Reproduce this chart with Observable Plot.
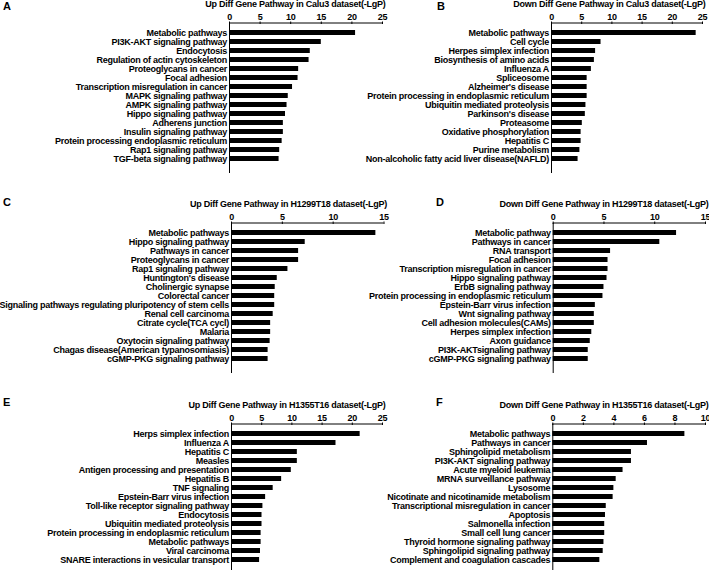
<!DOCTYPE html>
<html><head><meta charset="utf-8">
<script src="https://cdn.jsdelivr.net/npm/d3@7"></script>
<script src="https://cdn.jsdelivr.net/npm/@observablehq/plot@0.6"></script>
<style>
body{margin:0;background:#fff;}
#root{position:relative;width:709px;height:570px;overflow:hidden;font-family:"Liberation Sans",Arial,sans-serif;}
.panel{position:absolute;}
.letter{position:absolute;font-weight:bold;font-size:11px;line-height:1;color:#000;}
</style></head><body><div id="root"></div>
<script>
// ---- Data ----
const titleA = "Up Diff Gene Pathway in Calu3 dataset(-LgP)";
const labelsA = ["Metabolic pathways","PI3K-AKT signaling pathway","Endocytosis","Regulation of actin cytoskeleton","Proteoglycans in cancer","Focal adhesion","Transcription misregulation in cancer","MAPK signaling pathway","AMPK signaling pathway","Hippo signaling pathway","Adherens junction","Insulin signaling pathway","Protein processing endoplasmic reticulum","Rap1 signaling pathway","TGF-beta signaling pathway"];
const valuesA = [20.6,15.0,13.2,13.0,11.3,11.2,10.3,9.6,9.4,9.15,8.8,8.8,8.6,8.2,8.1];
const ticksA = [0,5,10,15,20,25];

const titleB = "Down Diff Gene Pathway in Calu3 dataset(-LgP)";
const labelsB = ["Metabolic pathways","Cell cycle","Herpes simplex infection","Biosynthesis of amino acids","Influenza A","Spliceosome","Alzheimer's disease","Protein processing in endoplasmic reticulum","Ubiquitin mediated proteolysis","Parkinson's disease","Proteasome","Oxidative phosphorylation","Hepatitis C","Purine metabolism","Non-alcoholic fatty acid liver disease(NAFLD)"];
const valuesB = [23.95,8.2,7.3,7.1,6.6,5.9,5.9,5.9,5.7,5.6,5.1,4.9,4.9,4.7,4.4];
const ticksB = [0,5,10,15,20,25];

const titleC = "Up Diff Gene Pathway in H1299T18 dataset(-LgP)";
const labelsC = ["Metabolic pathways","Hippo signaling pathway","Pathways in cancer","Proteoglycans in cancer","Rap1 signaling pathway","Huntington's disease","Cholinergic synapse","Colorectal cancer","Signaling pathways regulating pluripotency of stem cells","Renal cell carcinoma","Citrate cycle(TCA cycl)","Malaria","Oxytocin signaling pathway","Chagas disease(American typanosomiasis)","cGMP-PKG signaling pathway"];
const valuesC = [14.2,7.25,6.6,6.6,5.55,4.5,4.3,4.25,4.25,4.1,3.85,3.85,3.8,3.6,3.6];
const ticksC = [0,5,10,15];

const titleD = "Down Diff Gene Pathway in H1299T18 dataset(-LgP)";
const labelsD = ["Metabolic pathway","Pathways in cancer","RNA transport","Focal adhesion","Transcription misregulation in cancer","Hippo signaling pathway","ErbB signaling pathway","Protein processing in endoplasmic reticulum","Epstein-Barr virus infection","Wnt signaling pathway","Cell adhesion molecules(CAMs)","Herpes simplex infection","Axon guidance","PI3K-AKTsignaling pathway","cGMP-PKG signaling pathway"];
const valuesD = [12.15,10.5,5.65,5.4,5.4,5.3,5.0,4.9,4.15,4.05,4.05,3.8,3.65,3.45,3.45];
const ticksD = [0,5,10,15];

const titleE = "Up Diff Gene Pathway in H1355T16 dataset(-LgP)";
const labelsE = ["Herps simplex infection","Influenza A","Hepatitis C","Measles","Antigen processing and presentation","Hepatitis B","TNF signaling","Epstein-Barr virus infection","Toll-like receptor signaling pathway","Endocytosis","Ubiquitin mediated proteolysis","Protein processing in endoplasmic reticulum","Metabolic pathways","Viral carcinoma","SNARE interactions in vesicular transport"];
const valuesE = [21.3,17.3,10.9,10.9,9.9,8.3,6.9,5.65,5.2,5.05,5.05,4.9,4.9,4.8,4.65];
const ticksE = [0,5,10,15,20,25];

const titleF = "Down Diff Gene Pathway in H1355T16 dataset(-LgP)";
const labelsF = ["Metabolic pathways","Pathways in cancer","Sphingolipid metabolism","PI3K-AKT signaling pathway","Acute myeloid leukemia","MRNA surveillance pathway","Lysosome","Nicotinate and nicotinamide metabolism","Transcriptional misregulation in cancer","Apoptosis","Salmonella infection","Small cell lung cancer","Thyroid hormone signaling pathway","Sphingolipid signaling pathway","Complement and coagulation cascades"];
const valuesF = [8.65,6.2,5.15,5.15,4.6,4.15,4.0,3.95,3.5,3.45,3.4,3.4,3.35,3.3,3.08];
const ticksF = [0,2,4,6,8,10];

// ---- Layout ----
const panels = [
  {letter:"A", title:titleA, labels:labelsA, values:valuesA, ticks:ticksA, left:0,   top:0,   width:390, ml:229,   mr:8,   lx:3,   ly:1},
  {letter:"B", title:titleB, labels:labelsB, values:valuesB, ticks:ticksB, left:350, top:0,   width:359, ml:201,   mr:7,   lx:437, ly:1},
  {letter:"C", title:titleC, labels:labelsC, values:valuesC, ticks:ticksC, left:0,   top:200, width:391, ml:231,   mr:7.5, lx:3,   ly:197},
  {letter:"D", title:titleD, labels:labelsD, values:valuesD, ticks:ticksD, left:350, top:200, width:359, ml:202.7, mr:4,   lx:436, ly:197},
  {letter:"E", title:titleE, labels:labelsE, values:valuesE, ticks:ticksE, left:0,   top:401, width:390, ml:231,   mr:8,   lx:3,   ly:397},
  {letter:"F", title:titleF, labels:labelsF, values:valuesF, ticks:ticksF, left:350, top:401, width:359, ml:202.3, mr:4,   lx:436, ly:397}
];

const root = document.getElementById("root");
const FONT = "'Liberation Sans', Arial, Helvetica, sans-serif";

for (const p of panels) {
  const data = p.labels.map((label, i) => ({label, value: p.values[i]}));
  const xmax = p.ticks[p.ticks.length - 1];
  const topLine = (index, scales, values, dims) => {
    const l = document.createElementNS("http://www.w3.org/2000/svg", "line");
    l.setAttribute("x1", scales.x(0));
    l.setAttribute("x2", scales.x(xmax));
    l.setAttribute("y1", dims.marginTop);
    l.setAttribute("y2", dims.marginTop);
    l.setAttribute("stroke", "#000");
    l.setAttribute("stroke-width", 1);
    return l;
  };
  const chart = Plot.plot({
    width: p.width,
    height: 178,
    marginLeft: p.ml,
    marginRight: p.mr,
    marginTop: 23,
    marginBottom: 5,
    style: {background: "transparent", overflow: "visible", fontFamily: FONT, fontSize: "9px", fontWeight: "bold", letterSpacing: "-0.25px", color: "#000"},
    x: {domain: [0, xmax]},
    y: {domain: p.labels, paddingInner: 0.4, paddingOuter: 0.25, insetBottom: 5},
    marks: [
      Plot.barX(data, {x: "value", y: "label", fill: "#000"}),
      Plot.ruleX([0], {stroke: "#000", strokeWidth: 1}),
      topLine,
      Plot.axisX({anchor: "top", ticks: p.ticks, tickSize: 2.5, tickPadding: 1.5, label: null, tickFormat: d3.format("d")}),
      Plot.axisY({tickSize: 0, tickPadding: 2.5, label: null}),
      Plot.text([p.title], {frameAnchor: "top-right", textAnchor: "end", lineAnchor: "middle", dx: 3, dy: -19.5, fill: "#000"})
    ]
  });
  chart.classList.add("panel");
  chart.style.left = p.left + "px";
  chart.style.top = p.top + "px";
  root.appendChild(chart);
  const L = document.createElement("div");
  L.className = "letter";
  L.textContent = p.letter;
  L.style.left = p.lx + "px";
  L.style.top = p.ly + "px";
  root.appendChild(L);
}
</script>
</body></html>
